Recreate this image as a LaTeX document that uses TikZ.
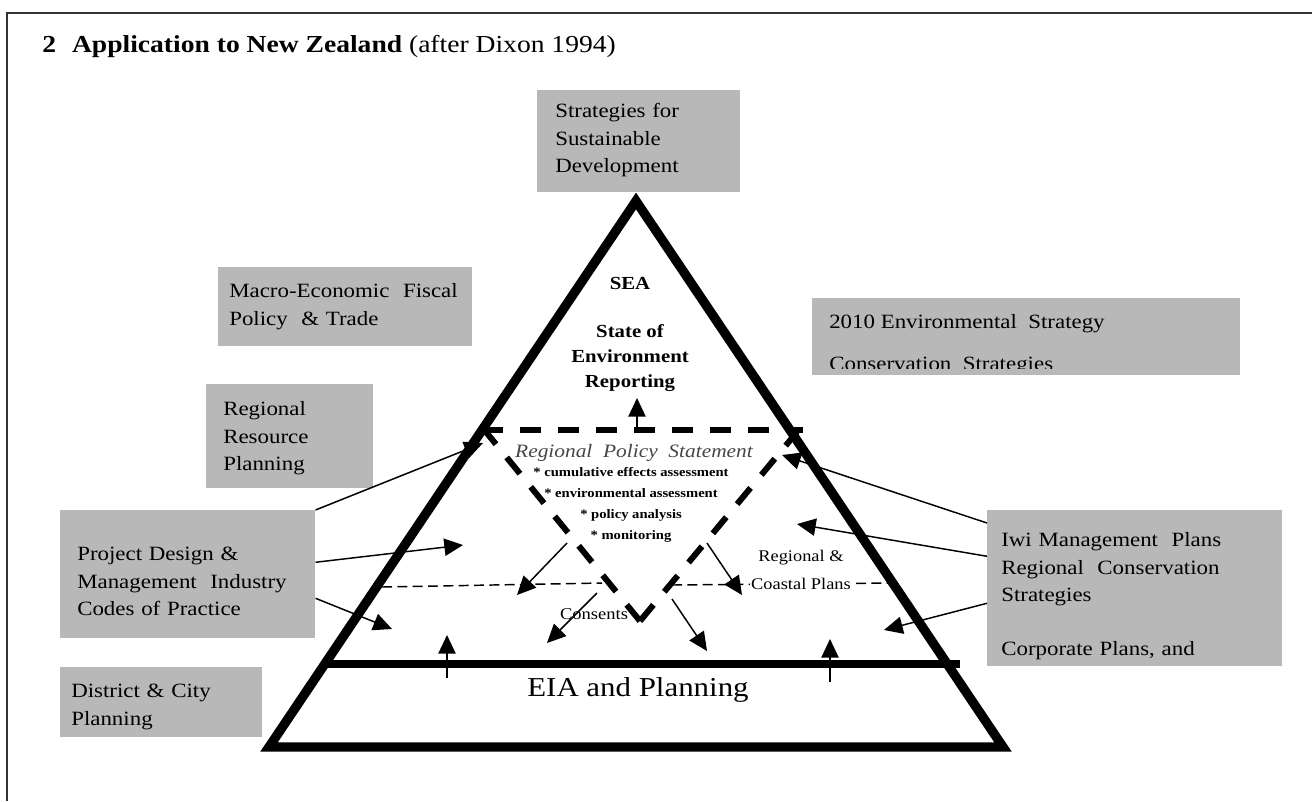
\documentclass[tikz,border=0pt]{standalone}
\usepackage{fontspec}
\setmainfont{Liberation Serif}[FakeStretch=1.13]
\usetikzlibrary{arrows.meta}
\definecolor{boxgray}{RGB}{184,184,184}
\definecolor{framegray}{RGB}{51,51,51}
\definecolor{rpsgray}{RGB}{70,70,70}
\begin{document}
\begin{tikzpicture}[x=0.75pt,y=-0.75pt]
    \tikzstyle{graybox} = [fill=boxgray, anchor=north west, align=left, inner ysep=0pt, font=\fontsize{15.2}{20.8}\selectfont];
    \tikzstyle{arr} = [line width=1.1pt, -{Triangle[length=14pt,width=13pt]}];
    \tikzstyle{bigdash} = [line width=4.5pt, dash pattern=on 15.75pt off 12.75pt];
    \tikzstyle{thindash} = [line width=1.1pt, dash pattern=on 7.5pt off 4pt];
    \useasboundingbox (0,0) rectangle (1312,801);
    \draw[framegray, line width=1.3pt] (7,801) -- (7,13) -- (1312,13);
    \node[anchor=base west, font=\fontsize{18.3}{20}\selectfont, inner sep=0pt] (title) at (42,52) {\textbf{2\hspace{12pt}Application to New Zealand} (after Dixon 1994)};
    \node[graybox, text width=125.25pt, inner xsep=13.5pt, text height=20.25pt, text depth=56.25pt] (sustbox) at (537,90) {Strategies for\\Sustainable\\Development};
    \node[graybox, text width=174pt, inner xsep=8.25pt, text height=22.5pt, text depth=36.75pt] (macrobox) at (218,267) {Macro-Economic\ \ Fiscal\\Policy\ \ \& Trade};
    \node[graybox, text width=99.75pt, inner xsep=12.75pt, text height=23.25pt, text depth=54.75pt] (resbox) at (206,384) {Regional\\Resource\\Planning};
    \node[graybox, text width=165.75pt, inner xsep=12.75pt, text height=37.5pt, text depth=58.5pt] (projbox) at (60,510) {Project Design \&\\Management\ \ Industry\\Codes of Practice};
    \node[graybox, text width=135pt, inner xsep=8.25pt, text height=22.5pt, text depth=30pt] (distbox) at (60,667) {District \& City\\Planning};
    \node[graybox, text width=200.25pt, inner xsep=10.5pt, text height=27pt, text depth=90pt] (iwibox) at (987,510) {Iwi Management\ \ Plans\\Regional\ \ Conservation\\Strategies\\[19.5pt]Corporate Plans, and};
    \node[graybox, minimum width=321pt, minimum height=57.75pt] (envbox) at (812,298) {};
    \begin{scope}
        \clip (812,298) rectangle (1240,368);
        \node[anchor=base west, inner sep=0pt, font=\fontsize{15.2}{20.8}\selectfont] (envline1) at (829,328) {2010 Environmental\ \ Strategy};
        \node[anchor=base west, inner sep=0pt, font=\fontsize{15.2}{20.8}\selectfont] (envline2) at (829,370) {Conservation\ \ Strategies};
    \end{scope}
    \coordinate (apex) at (636,201);
    \coordinate (bl) at (269,747);
    \coordinate (br) at (1003,747);
    \draw[line width=7pt, line join=miter] (apex) -- (br) -- (bl) -- cycle;
    \coordinate (eiaL) at (324,664);
    \coordinate (eiaR) at (960,664);
    \draw[line width=5.6pt] (eiaL) -- (eiaR);
    \coordinate (rpsL) at (482,430);
    \coordinate (rpsR) at (803,430);
    \coordinate (vtl) at (486,432);
    \coordinate (vtr) at (797,432);
    \coordinate (vbot) at (640,621);
    \draw[bigdash] (rpsL) -- (rpsR);
    \draw[bigdash] (vbot) -- (vtl);
    \draw[bigdash] (vbot) -- (vtr);
    \coordinate (dlL) at (382,587);
    \coordinate (dlR) at (602,583);
    \coordinate (drL) at (672,585);
    \coordinate (drR) at (893,583);
    \draw[thindash] (dlL) -- (dlR);
    \draw[thindash] (drL) -- (drR);
    \node[font=\bfseries\fontsize{13.8}{18.75}\selectfont] (sea) at (630,283) {SEA};
    \node[font=\bfseries\fontsize{13.8}{18.75}\selectfont, align=center] (soe) at (630,358) {State of\\Environment\\Reporting};
    \node[font=\itshape\fontsize{14.2}{16}\selectfont, text=rpsgray] (rps) at (634,453) {Regional\ \ Policy\ \ Statement};
    \node[font=\bfseries\fontsize{9.7}{15.75}\selectfont, align=center] (tools) at (631,505) {* cumulative effects assessment\\* environmental assessment\\* policy analysis\\* monitoring};
    \node[font=\fontsize{12.3}{14}\selectfont] (consents) at (594,614) {Consents};
    \node[font=\fontsize{12.2}{21}\selectfont, align=center, fill=white, inner sep=1pt] (coastal) at (801,570) {Regional \&\\Coastal Plans};
    \node[font=\fontsize{20.5}{22}\selectfont] (eia) at (638,690) {EIA and Planning};
    \coordinate (rsTail) at (637,430);
    \coordinate (rsHead) at (637,398);
    \coordinate (a1) at (483,443);
    \coordinate (a2) at (463,545);
    \coordinate (a3) at (392,629);
    \coordinate (a4s) at (567,543);
    \coordinate (a4e) at (517,595);
    \coordinate (a5s) at (597,593);
    \coordinate (a5e) at (547,643);
    \coordinate (a6s) at (447,678);
    \coordinate (a6e) at (447,635);
    \coordinate (a7s) at (707,543);
    \coordinate (a7e) at (742,595);
    \coordinate (a8s) at (672,599);
    \coordinate (a8e) at (707,651);
    \coordinate (a9s) at (830,682);
    \coordinate (a9e) at (830,639);
    \coordinate (a10) at (782,455);
    \coordinate (a11) at (797,524);
    \coordinate (a12) at (884,630);
    \draw[arr] (rsTail) -- (rsHead);
    \draw[arr] (projbox.north east) -- (a1);
    \draw[arr] ([yshift=9pt]projbox.east) -- (a2);
    \draw[arr] ([yshift=-18pt]projbox.east) -- (a3);
    \draw[arr] (a4s) -- (a4e);
    \draw[arr] (a5s) -- (a5e);
    \draw[arr] (a6s) -- (a6e);
    \draw[arr] (a7s) -- (a7e);
    \draw[arr] (a8s) -- (a8e);
    \draw[arr] (a9s) -- (a9e);
    \draw[arr] ([yshift=-9.75pt]iwibox.north west) -- (a10);
    \draw[arr] ([yshift=24pt]iwibox.west) -- (a11);
    \draw[arr] ([yshift=-11.25pt]iwibox.west) -- (a12);
\end{tikzpicture}
\end{document}
